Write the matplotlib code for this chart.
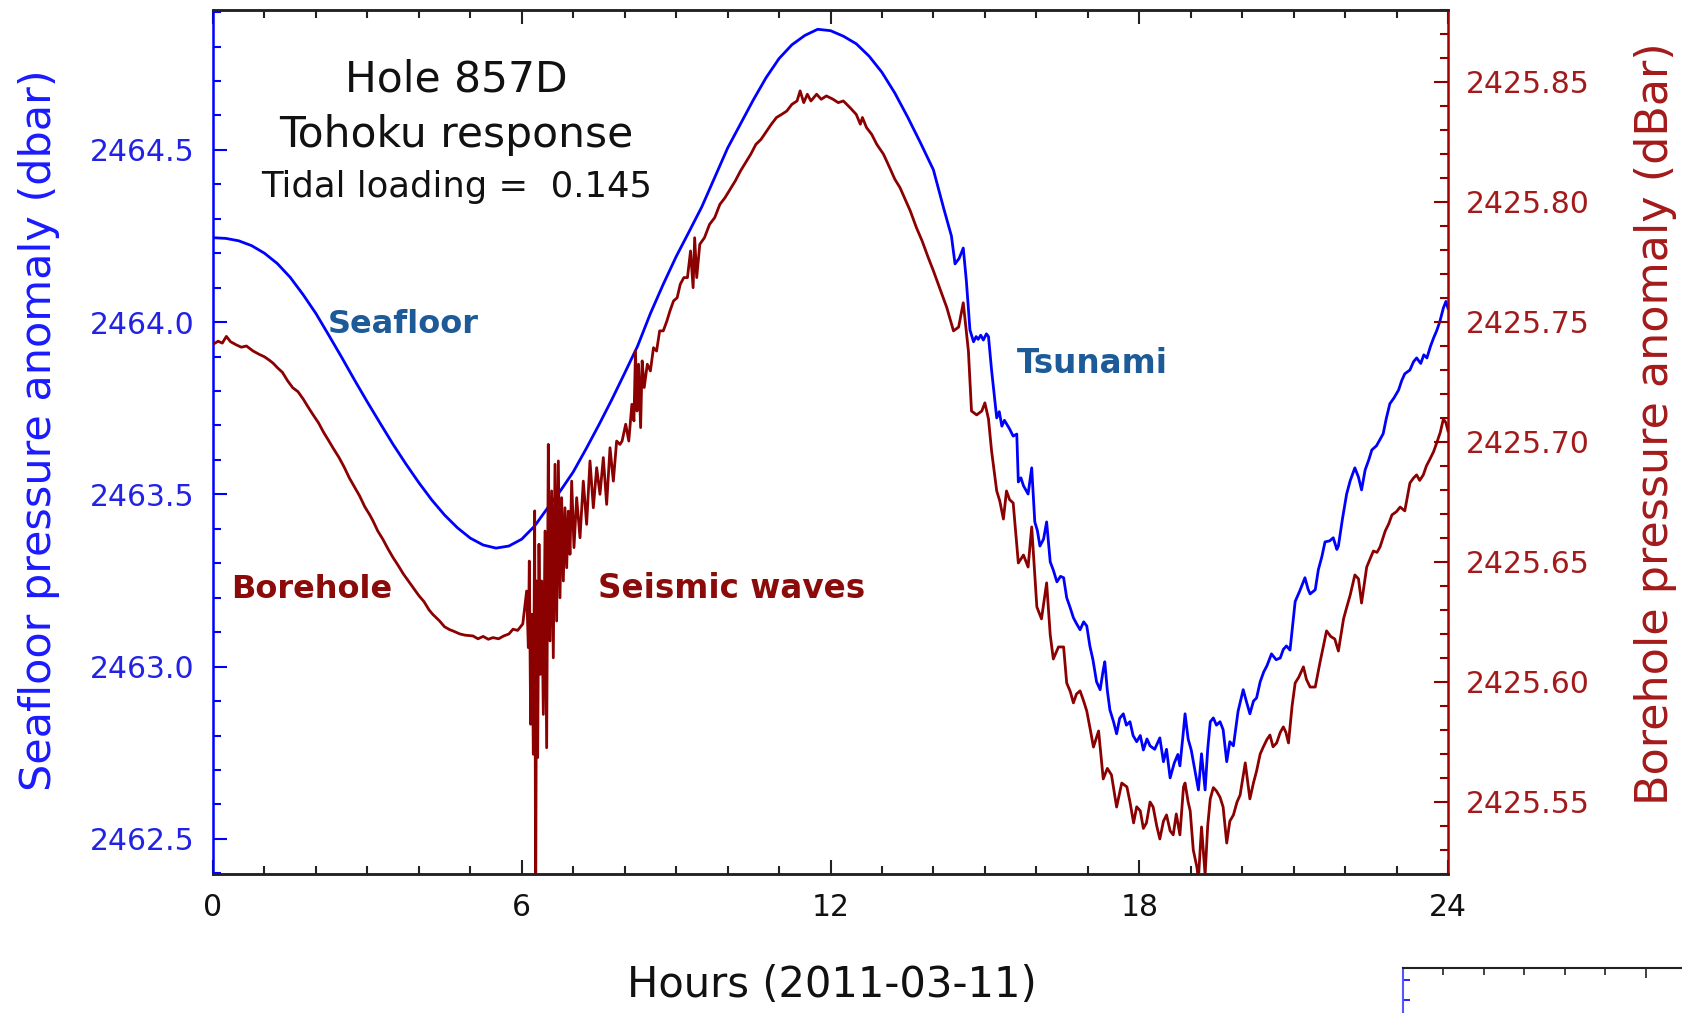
import matplotlib
matplotlib.use("Agg")
import matplotlib.pyplot as plt
from matplotlib.ticker import FixedLocator

# ---------------- data ----------------
seafloor_hours = [
    0.00, 0.25, 0.50, 0.75, 1.00, 1.25, 1.50, 1.75, 2.00, 2.25, 2.50, 2.75,
    3.00, 3.25, 3.50, 3.75, 4.00, 4.25, 4.50, 4.75, 5.00, 5.25, 5.50, 5.75,
    6.00, 6.25, 6.50, 6.75, 7.00, 7.25, 7.50, 7.75, 8.00, 8.25, 8.50, 8.75,
    9.00, 9.25, 9.50, 9.75, 10.00, 10.25, 10.50, 10.75, 11.00, 11.25, 11.50,
    11.75, 12.00, 12.25, 12.50, 12.75, 13.00, 13.25, 13.50, 13.75, 14.00,
    14.20, 14.35, 14.42, 14.50, 14.58, 14.64, 14.71, 14.78, 14.83, 14.87,
    14.92, 14.97, 15.03, 15.07, 15.13, 15.23, 15.28, 15.33, 15.38, 15.42,
    15.48, 15.55, 15.62, 15.65, 15.70, 15.75, 15.80, 15.84, 15.91, 15.97,
    16.02, 16.07, 16.14, 16.20, 16.27, 16.33, 16.40, 16.47, 16.53, 16.59,
    16.66, 16.72, 16.78, 16.85, 16.92, 16.98, 17.04, 17.10, 17.17, 17.24,
    17.30, 17.33, 17.38, 17.43, 17.50, 17.56, 17.62, 17.69, 17.75, 17.82,
    17.88, 17.95, 18.02, 18.08, 18.15, 18.21, 18.30, 18.40, 18.47, 18.53,
    18.60, 18.68, 18.75, 18.79, 18.85, 18.89, 18.95, 19.01, 19.08, 19.15,
    19.21, 19.28, 19.33, 19.38, 19.44, 19.50, 19.57, 19.63, 19.70, 19.76,
    19.83, 19.92, 20.02, 20.08, 20.15, 20.22, 20.28, 20.35, 20.42, 20.48,
    20.57, 20.66, 20.74, 20.80, 20.86, 20.93, 21.03, 21.12, 21.22, 21.28,
    21.32, 21.42, 21.48, 21.55, 21.61, 21.70, 21.77, 21.84, 21.87, 21.95,
    22.03, 22.10, 22.19, 22.26, 22.32, 22.39, 22.46, 22.52, 22.61, 22.68,
    22.74, 22.80, 22.87, 22.95, 23.04, 23.10, 23.16, 23.26, 23.33, 23.39,
    23.47, 23.53, 23.59, 23.66, 23.72, 23.78, 23.84, 23.91, 23.96, 24.00,
]
seafloor_dbar = [
    2464.245, 2464.243, 2464.236, 2464.222, 2464.200, 2464.170, 2464.130,
    2464.080, 2464.025, 2463.962, 2463.898, 2463.832, 2463.768, 2463.706,
    2463.645, 2463.588, 2463.534, 2463.484, 2463.440, 2463.403, 2463.373,
    2463.353, 2463.344, 2463.350, 2463.370, 2463.408, 2463.460, 2463.510,
    2463.565, 2463.632, 2463.702, 2463.775, 2463.852, 2463.930, 2464.025,
    2464.110, 2464.190, 2464.262, 2464.335, 2464.420, 2464.505, 2464.575,
    2464.645, 2464.710, 2464.765, 2464.805, 2464.832, 2464.850, 2464.846,
    2464.830, 2464.808, 2464.772, 2464.725, 2464.665, 2464.595, 2464.520,
    2464.442, 2464.330, 2464.250, 2464.169, 2464.185, 2464.215, 2464.120,
    2463.977, 2463.943, 2463.958, 2463.950, 2463.962, 2463.948, 2463.966,
    2463.958, 2463.861, 2463.722, 2463.740, 2463.698, 2463.715, 2463.705,
    2463.690, 2463.669, 2463.675, 2463.536, 2463.548, 2463.525, 2463.512,
    2463.501, 2463.577, 2463.420, 2463.395, 2463.350, 2463.370, 2463.420,
    2463.304, 2463.280, 2463.246, 2463.262, 2463.258, 2463.200, 2463.170,
    2463.142, 2463.125, 2463.107, 2463.130, 2463.118, 2463.060, 2463.020,
    2462.956, 2462.933, 2462.990, 2463.014, 2462.930, 2462.874, 2462.840,
    2462.805, 2462.850, 2462.863, 2462.830, 2462.840, 2462.800, 2462.782,
    2462.800, 2462.758, 2462.790, 2462.770, 2462.760, 2462.793, 2462.724,
    2462.760, 2462.677, 2462.720, 2462.745, 2462.712, 2462.800, 2462.863,
    2462.790, 2462.758, 2462.700, 2462.642, 2462.747, 2462.642, 2462.760,
    2462.840, 2462.851, 2462.830, 2462.840, 2462.817, 2462.724, 2462.782,
    2462.770, 2462.870, 2462.933, 2462.900, 2462.863, 2462.900, 2462.909,
    2462.956, 2462.985, 2463.002, 2463.037, 2463.020, 2463.025, 2463.050,
    2463.060, 2463.048, 2463.189, 2463.220, 2463.258, 2463.225, 2463.211,
    2463.223, 2463.281, 2463.320, 2463.362, 2463.365, 2463.374, 2463.340,
    2463.350, 2463.430, 2463.501, 2463.540, 2463.577, 2463.550, 2463.513,
    2463.571, 2463.600, 2463.629, 2463.641, 2463.660, 2463.676, 2463.720,
    2463.763, 2463.780, 2463.803, 2463.830, 2463.850, 2463.861, 2463.885,
    2463.896, 2463.880, 2463.905, 2463.896, 2463.930, 2463.954, 2463.975,
    2464.001, 2464.041, 2464.060, 2464.040,
]

borehole_hours = [
    0.00, 0.10, 0.18, 0.26, 0.34, 0.45, 0.55, 0.65, 0.78, 0.90, 1.00, 1.10,
    1.17, 1.25, 1.35, 1.45, 1.55, 1.65, 1.75, 1.85, 1.94, 2.05, 2.15, 2.25,
    2.33, 2.45, 2.55, 2.65, 2.72, 2.85, 2.95, 3.05, 3.11, 3.20, 3.30, 3.40,
    3.50, 3.60, 3.70, 3.80, 3.89, 4.00, 4.10, 4.20, 4.27, 4.40, 4.50, 4.60,
    4.66, 4.80, 4.90, 5.05, 5.15, 5.25, 5.35, 5.44, 5.55, 5.65, 5.75, 5.83,
    5.92, 6.02,
    6.095, 6.128, 6.147, 6.173, 6.199, 6.225, 6.251, 6.270, 6.290, 6.309,
    6.335, 6.361, 6.387, 6.419, 6.452, 6.484, 6.516, 6.549, 6.581, 6.613,
    6.646, 6.678, 6.711, 6.743, 6.775, 6.808, 6.840, 6.873, 6.905, 6.937,
    6.970, 7.015, 7.067, 7.132, 7.196, 7.261, 7.326, 7.391, 7.456, 7.520,
    7.585, 7.650, 7.715, 7.780, 7.844, 7.909,
    7.95, 8.02, 8.08, 8.14, 8.18, 8.21, 8.24, 8.27, 8.31, 8.34, 8.38, 8.44,
    8.50, 8.56, 8.62, 8.68, 8.75, 8.82, 8.88, 8.95, 9.02, 9.08, 9.15, 9.22,
    9.28, 9.33, 9.36, 9.40, 9.46, 9.55, 9.65, 9.75, 9.85, 9.95, 10.05,
    10.15, 10.25, 10.35, 10.45, 10.55, 10.65, 10.76, 10.85, 10.95, 11.05,
    11.15, 11.25, 11.35, 11.41, 11.48, 11.55, 11.62, 11.73, 11.82, 11.92,
    12.05, 12.15, 12.25, 12.38, 12.50, 12.58, 12.62, 12.70, 12.80, 12.90,
    13.03, 13.15, 13.25, 13.35, 13.45, 13.55, 13.67, 13.78, 13.90, 14.00,
    14.13, 14.26, 14.39, 14.49, 14.58, 14.68, 14.74, 14.84, 14.94, 15.00,
    15.07, 15.13, 15.23, 15.29, 15.36, 15.42, 15.48, 15.55, 15.65, 15.75,
    15.84, 15.91, 16.01, 16.10, 16.20, 16.27, 16.33, 16.43, 16.53, 16.59,
    16.66, 16.72, 16.78, 16.85, 16.92, 16.98, 17.05, 17.11, 17.21, 17.30,
    17.38, 17.46, 17.56, 17.66, 17.76, 17.82, 17.89, 17.95, 18.02, 18.08,
    18.14, 18.21, 18.27, 18.34, 18.40, 18.47, 18.53, 18.60, 18.66, 18.72,
    18.79, 18.86, 18.89, 18.95, 18.99, 19.05, 19.12, 19.15, 19.21, 19.28,
    19.33, 19.38, 19.44, 19.50, 19.57, 19.63, 19.70, 19.76, 19.83, 19.90,
    19.96, 20.06, 20.15, 20.22, 20.28, 20.35, 20.41, 20.48, 20.54, 20.60,
    20.67, 20.74, 20.80, 20.85, 20.90, 20.97, 21.03, 21.10, 21.19, 21.25,
    21.32, 21.42, 21.51, 21.58, 21.64, 21.72, 21.80, 21.87, 21.97, 22.03,
    22.10, 22.19, 22.26, 22.32, 22.42, 22.48, 22.55, 22.62, 22.68, 22.78,
    22.85, 22.91, 23.00, 23.07, 23.16, 23.26, 23.33, 23.39, 23.45, 23.52,
    23.58, 23.65, 23.72, 23.78, 23.85, 23.91, 23.96, 24.00,
]
borehole_dbar = [
    2425.7407, 2425.7420, 2425.7412, 2425.7440, 2425.7418, 2425.7405,
    2425.7395, 2425.7400, 2425.7379, 2425.7365, 2425.7355, 2425.7340,
    2425.7328, 2425.7310, 2425.7290, 2425.7255, 2425.7226, 2425.7210,
    2425.7180, 2425.7145, 2425.7115, 2425.7080, 2425.7040, 2425.7005,
    2425.6976, 2425.6935, 2425.6895, 2425.6850, 2425.6824, 2425.6775,
    2425.6730, 2425.6695, 2425.6671, 2425.6630, 2425.6595, 2425.6555,
    2425.6518, 2425.6485, 2425.6450, 2425.6420, 2425.6393, 2425.6360,
    2425.6335, 2425.6300, 2425.6282, 2425.6255, 2425.6230, 2425.6218,
    2425.6213, 2425.6200, 2425.6195, 2425.6192, 2425.6180, 2425.6190,
    2425.6178, 2425.6185, 2425.6180, 2425.6192, 2425.6200, 2425.6220,
    2425.6215, 2425.6242,
    2425.6379, 2425.6143, 2425.6504, 2425.5824, 2425.6282, 2425.5699,
    2425.6713, 2425.5000, 2425.6421, 2425.5685, 2425.6574, 2425.6032,
    2425.6421, 2425.5865, 2425.6629, 2425.5726, 2425.6990, 2425.6171,
    2425.6796, 2425.6101, 2425.6907, 2425.6254, 2425.6921, 2425.6351,
    2425.6768, 2425.6421, 2425.6726, 2425.6476, 2425.6712, 2425.6532,
    2425.6837, 2425.6560, 2425.6768, 2425.6601, 2425.6837, 2425.6657,
    2425.6921, 2425.6726, 2425.6893, 2425.6782, 2425.6935, 2425.6740,
    2425.6976, 2425.6837, 2425.7004, 2425.6990,
    2425.7004, 2425.7074, 2425.7004, 2425.7157, 2425.7088, 2425.7379,
    2425.7129, 2425.7324, 2425.7060, 2425.7338, 2425.7227, 2425.7324,
    2425.7296, 2425.7393, 2425.7379, 2425.7463, 2425.7463, 2425.7504,
    2425.7546, 2425.7588, 2425.7601, 2425.7657, 2425.7685, 2425.7685,
    2425.7796, 2425.7643, 2425.7851, 2425.7685, 2425.7824, 2425.7851,
    2425.7907, 2425.7935, 2425.7990, 2425.8018, 2425.8053, 2425.8088,
    2425.8129, 2425.8164, 2425.8199, 2425.8240, 2425.8261, 2425.8296,
    2425.8324, 2425.8352, 2425.8365, 2425.8379, 2425.8407, 2425.8421,
    2425.8463, 2425.8414, 2425.8449, 2425.8421, 2425.8449, 2425.8428,
    2425.8442, 2425.8428, 2425.8414, 2425.8421, 2425.8393, 2425.8365,
    2425.8324, 2425.8352, 2425.8310, 2425.8282, 2425.8240, 2425.8199,
    2425.8143, 2425.8095, 2425.8060, 2425.8011, 2425.7963, 2425.7893,
    2425.7838, 2425.7768, 2425.7713, 2425.7636, 2425.7560, 2425.7463,
    2425.7479, 2425.7580, 2425.7379, 2425.7129, 2425.7113, 2425.7129,
    2425.7163, 2425.7096, 2425.6963, 2425.6796, 2425.6754, 2425.6679,
    2425.6796, 2425.6760, 2425.6746, 2425.6496, 2425.6529, 2425.6479,
    2425.6646, 2425.6313, 2425.6263, 2425.6413, 2425.6196, 2425.6096,
    2425.6146, 2425.6146, 2425.5996, 2425.5960, 2425.5913, 2425.5950,
    2425.5963, 2425.5920, 2425.5879, 2425.5800, 2425.5729, 2425.5796,
    2425.5596, 2425.5640, 2425.5613, 2425.5479, 2425.5579, 2425.5563,
    2425.5500, 2425.5413, 2425.5480, 2425.5463, 2425.5390, 2425.5413,
    2425.5500, 2425.5479, 2425.5400, 2425.5346, 2425.5420, 2425.5446,
    2425.5380, 2425.5363, 2425.5450, 2425.5363, 2425.5563, 2425.5579,
    2425.5500, 2425.5463, 2425.5300, 2425.5229, 2425.5179, 2425.5396,
    2425.5196, 2425.5400, 2425.5513, 2425.5560, 2425.5546, 2425.5520,
    2425.5479, 2425.5329, 2425.5420, 2425.5446, 2425.5500, 2425.5529,
    2425.5663, 2425.5513, 2425.5580, 2425.5629, 2425.5700, 2425.5729,
    2425.5760, 2425.5779, 2425.5730, 2425.5746, 2425.5790, 2425.5813,
    2425.5790, 2425.5746, 2425.5900, 2425.5996, 2425.6020, 2425.6063,
    2425.6010, 2425.5979, 2425.5979, 2425.6079, 2425.6150, 2425.6213,
    2425.6190, 2425.6179, 2425.6129, 2425.6263, 2425.6310, 2425.6363,
    2425.6446, 2425.6430, 2425.6329, 2425.6479, 2425.6510, 2425.6546,
    2425.6540, 2425.6563, 2425.6629, 2425.6660, 2425.6696, 2425.6710,
    2425.6729, 2425.6713, 2425.6829, 2425.6850, 2425.6863, 2425.6840,
    2425.6863, 2425.6900, 2425.6929, 2425.6960, 2425.6996, 2425.7040,
    2425.7096, 2425.7080, 2425.7046,
]

x_major_ticks = [0, 6, 12, 18, 24]
x_tick_labels = ["0", "6", "12", "18", "24"]
left_major_ticks = [2462.5, 2463.0, 2463.5, 2464.0, 2464.5]
left_tick_labels = ["2462.5", "2463.0", "2463.5", "2464.0", "2464.5"]
right_major_ticks = [2425.55, 2425.60, 2425.65, 2425.70, 2425.75, 2425.80, 2425.85]
right_tick_labels = ["2425.55", "2425.60", "2425.65", "2425.70", "2425.75", "2425.80", "2425.85"]

title_lines = ["Hole 857D", "Tohoku response", "Tidal loading =  0.145"]

# ---------------- styling ----------------
BLUE_LINE = "#0000ff"
RED_LINE = "#8b0000"
LEFT_TXT = "#2222e6"
RIGHT_TXT = "#a31a1a"
ANNOT_BLUE = "#1c5a98"
ANNOT_RED = "#8b0a0a"

plt.rcParams["font.family"] = ["DejaVu Sans"]

fig = plt.figure(figsize=(16.83, 10.13), dpi=100)
ax = fig.add_axes([0.12656, 0.13722, 0.73381, 0.85291])
ax2 = ax.twinx()

ax.plot(seafloor_hours, seafloor_dbar, color=BLUE_LINE, lw=2.0)
ax2.plot(borehole_hours, borehole_dbar, color=RED_LINE, lw=2.0)

ax.set_xlim(0, 24)
ax.set_ylim(2462.398, 2464.906)
ax2.set_ylim(2425.520, 2425.880)

# x axis
ax.set_xticks(x_major_ticks)
ax.set_xticklabels(x_tick_labels)
ax.xaxis.set_minor_locator(FixedLocator(list(range(25))))
ax.tick_params(axis="x", which="both", direction="in", top=True, bottom=True,
               color="#222222", width=1.5, labelsize=21.5, pad=14, labelcolor="#111111")
ax.tick_params(axis="x", which="major", length=10)
ax.tick_params(axis="x", which="minor", length=6)

# left axis
ax.set_yticks(left_major_ticks)
ax.set_yticklabels(left_tick_labels)
ax.yaxis.set_minor_locator(FixedLocator([2462.4 + 0.1 * i for i in range(26)]))
ax.tick_params(axis="y", which="both", direction="in", left=True, right=False,
               color=BLUE_LINE, width=1.5, labelsize=21.5, pad=13, labelcolor=LEFT_TXT)
ax.tick_params(axis="y", which="major", length=10)
ax.tick_params(axis="y", which="minor", length=6)

# right axis
ax2.set_yticks(right_major_ticks)
ax2.set_yticklabels(right_tick_labels)
ax2.yaxis.set_minor_locator(FixedLocator([2425.52 + 0.01 * i for i in range(37)]))
ax2.tick_params(axis="y", which="both", direction="in", right=True, left=False,
                color=RED_LINE, width=1.5, labelsize=21.5, pad=13, labelcolor=RIGHT_TXT)
ax2.tick_params(axis="y", which="major", length=10)
ax2.tick_params(axis="y", which="minor", length=6)

for a in (ax, ax2):
    a.spines["top"].set_color("#222222")
    a.spines["bottom"].set_color("#222222")
    for s in a.spines.values():
        s.set_linewidth(1.8)
ax.spines["left"].set_color(BLUE_LINE)
ax.spines["right"].set_visible(False)
ax2.spines["left"].set_visible(False)
ax2.spines["right"].set_color("#a00000")

# labels
ax.set_xlabel("Hours (2011-03-11)", fontsize=30, color="#111111")
ax.xaxis.set_label_coords(0.501, -0.128)
ax.xaxis.label.set_verticalalignment("center")
ax.set_ylabel("Seafloor pressure anomaly (dbar)", fontsize=31, color="#1a1aff")
ax.yaxis.set_label_coords(-0.1405, 0.514)
ax.yaxis.label.set_verticalalignment("center")
ax2.set_ylabel("Borehole pressure anomaly (dBar)", fontsize=32, color=RIGHT_TXT,
               rotation=90)
ax2.yaxis.set_label_coords(1.168, 0.521)
ax2.yaxis.label.set_verticalalignment("center")

# title block
ax.text(0.197, 0.9054, title_lines[0], transform=ax.transAxes, ha="center",
        va="baseline", fontsize=30.5, color="#111111")
ax.text(0.197, 0.842, title_lines[1], transform=ax.transAxes, ha="center",
        va="baseline", fontsize=30.5, color="#111111")
ax.text(0.197, 0.783, title_lines[2], transform=ax.transAxes, ha="center",
        va="baseline", fontsize=25.5, color="#111111")

# annotations
ax.text(0.0931, 0.6258, "Seafloor", transform=ax.transAxes, ha="left",
        va="baseline", fontsize=23, fontweight="bold", color=ANNOT_BLUE)
ax.text(0.651, 0.580, "Tsunami", transform=ax.transAxes, ha="left",
        va="baseline", fontsize=23.5, fontweight="bold", color=ANNOT_BLUE)
ax.text(0.0148, 0.3191, "Borehole", transform=ax.transAxes, ha="left",
        va="baseline", fontsize=23, fontweight="bold", color=ANNOT_RED)
ax.text(0.3117, 0.3190, "Seismic waves", transform=ax.transAxes, ha="left",
        va="baseline", fontsize=23.5, fontweight="bold", color=ANNOT_RED)

# fragment of the next panel visible at the lower right
frag = fig.add_axes([0.8336, 0.04442 - 0.3, 0.3, 0.3])
frag.set_xlim(0, 12.47)
frag.set_ylim(-30.4, 0)
frag.set_xticks([6])
frag.xaxis.set_minor_locator(FixedLocator([1, 2, 3, 4, 5, 7, 8, 9, 10, 11, 12]))
frag.set_yticks([-1.2, -3.2, -5.2, -7.2])
frag.tick_params(axis="x", which="both", direction="in", top=True, bottom=False,
                 labeltop=False, labelbottom=False, color="#222222", width=1.2)
frag.tick_params(axis="x", which="major", length=7)
frag.tick_params(axis="x", which="minor", length=5)
frag.tick_params(axis="y", which="both", direction="in", left=True, right=False,
                 labelleft=False, color=BLUE_LINE, width=1.2, length=5)
frag.spines["right"].set_visible(False)
frag.spines["bottom"].set_visible(False)
frag.spines["top"].set_color("#222222")
frag.spines["left"].set_color("#5555ff")
for s in frag.spines.values():
    s.set_linewidth(1.5)

fig.savefig("out.png", dpi=100)
